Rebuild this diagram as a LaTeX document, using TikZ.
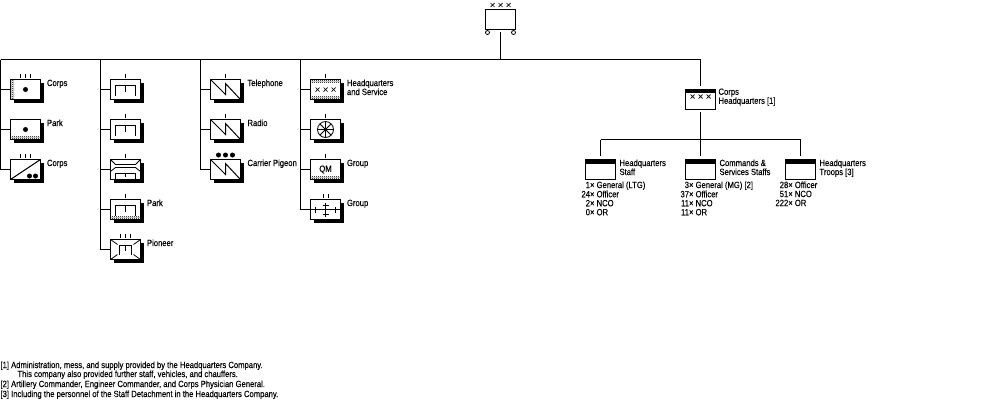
\documentclass[tikz,border=0pt]{standalone}
\usepackage{fontspec}
\usetikzlibrary{shadows,patterns}
\newfontfamily\orgfont[FakeStretch=0.85,FakeBold=0.2]{Liberation Sans}
% checker fill for the shaded bands
\pgfdeclarepatternformonly{dither}{\pgfpointorigin}{\pgfpoint{2pt}{2pt}}{\pgfpoint{2pt}{2pt}}{
	\pgfpathrectangle{\pgfpointorigin}{\pgfpoint{1pt}{1pt}}
	\pgfpathrectangle{\pgfpoint{1pt}{1pt}}{\pgfpoint{1pt}{1pt}}
	\pgfusepath{fill}
}
% symbols, #1 is the name of the box
\newcommand{\onetick}[1]{\draw[shift={(#1.center)}] (0,-16) -- (0,-12);}
\newcommand{\twoticks}[1]{\draw[shift={(#1.center)}] (-2.5,-16) -- (-2.5,-12) (2.5,-16) -- (2.5,-12);}
\newcommand{\threeticks}[1]{\draw[shift={(#1.center)}] (-5,-16) -- (-5,-12) (0,-16) -- (0,-12) (5,-16) -- (5,-12);}
\newcommand{\millsym}[1]{\draw[shift={(#1.center)}] (-10,6) -- (-10,-4) -- (10,-4) -- (10,6) (0,-4) -- (0,2);}
\newcommand{\signalsym}[1]{\draw[shift={(#1.center)}] (-15,-10) -- (0,5) -- (0,-6) -- (15,10);}
\newcommand{\xxxsym}[2]{\draw[shift={(#1.center)},yshift=#2pt,line width=.7pt] (-10,-2) -- (-6,2) (-10,2) -- (-6,-2) (-2,-2) -- (2,2) (-2,2) -- (2,-2) (6,-2) -- (10,2) (6,2) -- (10,-2);}
\newcommand{\bandbottom}[1]{\fill[pattern=dither,shift={(#1.center)}] (-14.5,7) rectangle (14.5,9.5);}
\newcommand{\bandtop}[1]{\fill[pattern=dither,shift={(#1.center)}] (-14.5,-9.5) rectangle (14.5,-7);}
\begin{document}
\begin{tikzpicture}
	[	x=1pt,y=-1pt,line width=1pt,
	unit/.style={rectangle,draw=black,fill=white,minimum width=30pt,minimum height=20pt,inner sep=0pt,outer sep=0pt},
	troop/.style={unit,general shadow={shadow xshift=3pt,shadow yshift=-3pt,fill=black,opacity=1}},
	lbl/.style={anchor=north west,inner sep=0pt,align=left,font=\orgfont\fontsize{9}{9}\selectfont,execute at begin node={\rule{0pt}{6.5pt}\ignorespaces}},
	count/.style={anchor=north west,inner sep=0pt,font=\orgfont\fontsize{9}{9}\selectfont}
	]
	\useasboundingbox (0,0) rectangle (1000,400);

	\coordinate (busa) at (0.5,59.5);
	\coordinate (busb) at (100.5,59.5);
	\coordinate (busc) at (200.5,59.5);
	\coordinate (busd) at (300.5,59.5);
	\coordinate (buse) at (500.5,59.5);
	\coordinate (busf) at (700.5,59.5);
	\coordinate (hqbus) at (700.5,139.5);

	% corps at the top
	\node[unit] (corps) at (500.5,19.5) {};
	\xxxsym{corps}{14.5}
	\node[draw,circle,inner sep=0pt,minimum size=4pt,line width=.8pt] (wheela) at (487.5,32.5) {};
	\node[draw,circle,inner sep=0pt,minimum size=4pt,line width=.8pt] (wheelb) at (513.5,32.5) {};

	% first column
	\node[troop] (arta) at (25.5,89.5) {};
	\fill[pattern=dither] ([xshift=.5pt,yshift=9.5pt]arta.west) rectangle ([xshift=3.5pt,yshift=-9.5pt]arta.west);
	\threeticks{arta}
	\fill (arta.center) circle[radius=2.5];
	\node[lbl] (lblarta) at (46.5,79) {Corps};

	\node[troop] (artb) at (25.5,129.5) {};
	\bandbottom{artb}
	\fill (artb.center) circle[radius=2.5];
	\node[lbl] (lblartb) at (46.5,119) {Park};

	\node[troop] (artc) at (25.5,169.5) {};
	\threeticks{artc}
	\draw (artc.south west) -- (artc.north east);
	\fill ([xshift=4pt,yshift=-6.5pt]artc.center) circle[radius=2.5];
	\fill ([xshift=10pt,yshift=-6.5pt]artc.center) circle[radius=2.5];
	\node[lbl] (lblartc) at (46.5,159) {Corps};

	% second column
	\node[troop] (enga) at (125.5,89.5) {};
	\onetick{enga}
	\millsym{enga}

	\node[troop] (engb) at (125.5,129.5) {};
	\onetick{engb}
	\millsym{engb}

	\node[troop] (engc) at (125.5,169.5) {};
	\onetick{engc}
	\draw[shift={(engc.center)},line width=.8pt] (-15,-10) -- (-10,-5) -- (10,-5) -- (15,-10) (-15,2) -- (-10,-2) -- (10,-2) -- (15,2);
	\draw[shift={(engc.center)}] (-10,9) -- (-10,4) -- (10,4) -- (10,9) (0,4) -- (0,7);

	\node[troop] (engd) at (125.5,209.5) {};
	\onetick{engd}
	\millsym{engd}
	\bandbottom{engd}
	\node[lbl] (lblengd) at (146.5,199) {Park};

	\node[troop] (enge) at (125.5,249.5) {};
	\threeticks{enge}
	\draw[line width=.8pt] (enge.north west) -- ++(7,5) (enge.north east) -- ++(-7,5) (enge.south west) -- ++(7,-5) (enge.south east) -- ++(-7,-5);
	\draw[shift={(enge.center)}] (-6,5) -- (-6,-4) -- (6,-4) -- (6,5) (0,-4) -- (0,1);
	\node[lbl] (lblenge) at (146.5,239) {Pioneer};

	% third column
	\node[troop] (siga) at (225.5,89.5) {};
	\onetick{siga}
	\signalsym{siga}
	\node[lbl] (lblsiga) at (247,79) {Telephone};

	\node[troop] (sigb) at (225.5,129.5) {};
	\onetick{sigb}
	\signalsym{sigb}
	\node[lbl] (lblsigb) at (247,119) {Radio};

	\node[troop] (sigc) at (225.5,169.5) {};
	\signalsym{sigc}
	\fill ([xshift=-7pt,yshift=14.5pt]sigc.center) circle[radius=2.5];
	\fill ([yshift=14.5pt]sigc.center) circle[radius=2.5];
	\fill ([xshift=7pt,yshift=14.5pt]sigc.center) circle[radius=2.5];
	\node[lbl] (lblsigc) at (247,159) {Carrier Pigeon};

	% fourth column
	\node[troop] (supa) at (325.5,89.5) {};
	\onetick{supa}
	\bandtop{supa}
	\bandbottom{supa}
	\xxxsym{supa}{0}
	\node[lbl] (lblsupa) at (346.5,79) {Headquarters\\and Service};

	\node[troop] (supb) at (325.5,129.5) {};
	\onetick{supb}
	\draw[line width=.8pt] (supb.center) circle[radius=8];
	\draw[shift={(supb.center)},line width=.8pt] (-8,0) -- (8,0) (0,-8) -- (0,8) (-5.6,-5.6) -- (5.6,5.6) (-5.6,5.6) -- (5.6,-5.6);

	\node[troop,font=\orgfont\fontsize{9}{9}\selectfont] (supc) at (325.5,169.5) {QM};
	\onetick{supc}
	\bandbottom{supc}
	\node[lbl] (lblsupc) at (346.5,159) {Group};

	\node[troop] (supd) at (325.5,209.5) {};
	\twoticks{supd}
	\draw[shift={(supd.center)}] (-15,0) -- (15,0) (0,-7) -- (0,7) (-10,-3) -- (-10,3) (10,-3) -- (10,3) (-3,-4) -- (3,-4) (-3,5) -- (3,5);
	\node[lbl] (lblsupd) at (346.5,199) {Group};

	% headquarters
	\node[unit] (hq) at (700.5,99.5) {};
	\fill (hq.north west) rectangle ([yshift=-3.5pt]hq.north east);
	\xxxsym{hq}{3}
	\node[lbl] (lblhq) at (718,88) {Corps\\Headquarters [1]};

	\node[unit] (hqa) at (600.5,169.5) {};
	\fill (hqa.north west) rectangle ([yshift=-4pt]hqa.north east);
	\node[lbl] (lblhqa) at (619,159) {Headquarters\\Staff};
	\node[count] (cnta) at (581,181) {\begin{tabular}{@{}r@{}l@{}}1×&\ General (LTG)\\24×&\ Officer\\2×&\ NCO\\0×&\ OR\end{tabular}};

	\node[unit] (hqb) at (700.5,169.5) {};
	\fill (hqb.north west) rectangle ([yshift=-4pt]hqb.north east);
	\node[lbl] (lblhqb) at (719,159) {Commands \&\\Services Staffs};
	\node[count] (cntb) at (680,181) {\begin{tabular}{@{}r@{}l@{}}3×&\ General (MG) [2]\\37×&\ Officer\\11×&\ NCO\\11×&\ OR\end{tabular}};

	\node[unit] (hqc) at (800.5,169.5) {};
	\fill (hqc.north west) rectangle ([yshift=-4pt]hqc.north east);
	\node[lbl] (lblhqc) at (819,159) {Headquarters\\Troops [3]};
	\node[count] (cntc) at (775,181) {\begin{tabular}{@{}r@{}l@{}}28×&\ Officer\\51×&\ NCO\\222×&\ OR\end{tabular}};

	% lines between the units
	\draw (busa) -- (busf);
	\draw (buse) -- ([yshift=-2pt]corps.south);
	\draw (busa) |- (arta.west);
	\draw (busa) |- (artb.west);
	\draw (busa) |- (artc.west);
	\draw (busb) |- (enga.west);
	\draw (busb) |- (engb.west);
	\draw (busb) |- (engc.west);
	\draw (busb) |- (engd.west);
	\draw (busb) |- (enge.west);
	\draw (busc) |- (siga.west);
	\draw (busc) |- (sigb.west);
	\draw (busc) |- (sigc.west);
	\draw (busd) |- (supa.west);
	\draw (busd) |- (supb.west);
	\draw (busd) |- (supc.west);
	\draw (busd) |- (supd.west);
	\draw (busf) -- ([yshift=4pt]hq.north);
	\draw ([yshift=-2pt]hq.south) -- (hqbus);
	\draw (hqa.north |- hqbus) -- (hqc.north |- hqbus);
	\draw (hqa.north |- hqbus) -- ([yshift=4pt]hqa.north);
	\draw (hqbus) -- ([yshift=4pt]hqb.north);
	\draw (hqc.north |- hqbus) -- ([yshift=4pt]hqc.north);

	% notes
	\node[lbl] (notea) at (0,361) {[1] Administration, mess, and supply provided by the Headquarters Company.};
	\node[lbl] (noteb) at (17,370) {This company also provided further staff, vehicles, and chauffers.};
	\node[lbl] (notec) at (0,380) {[2] Artillery Commander, Engineer Commander, and Corps Physician General.};
	\node[lbl] (noted) at (0,390) {[3] Including the personnel of the Staff Detachment in the Headquarters Company.};
\end{tikzpicture}
\end{document}
